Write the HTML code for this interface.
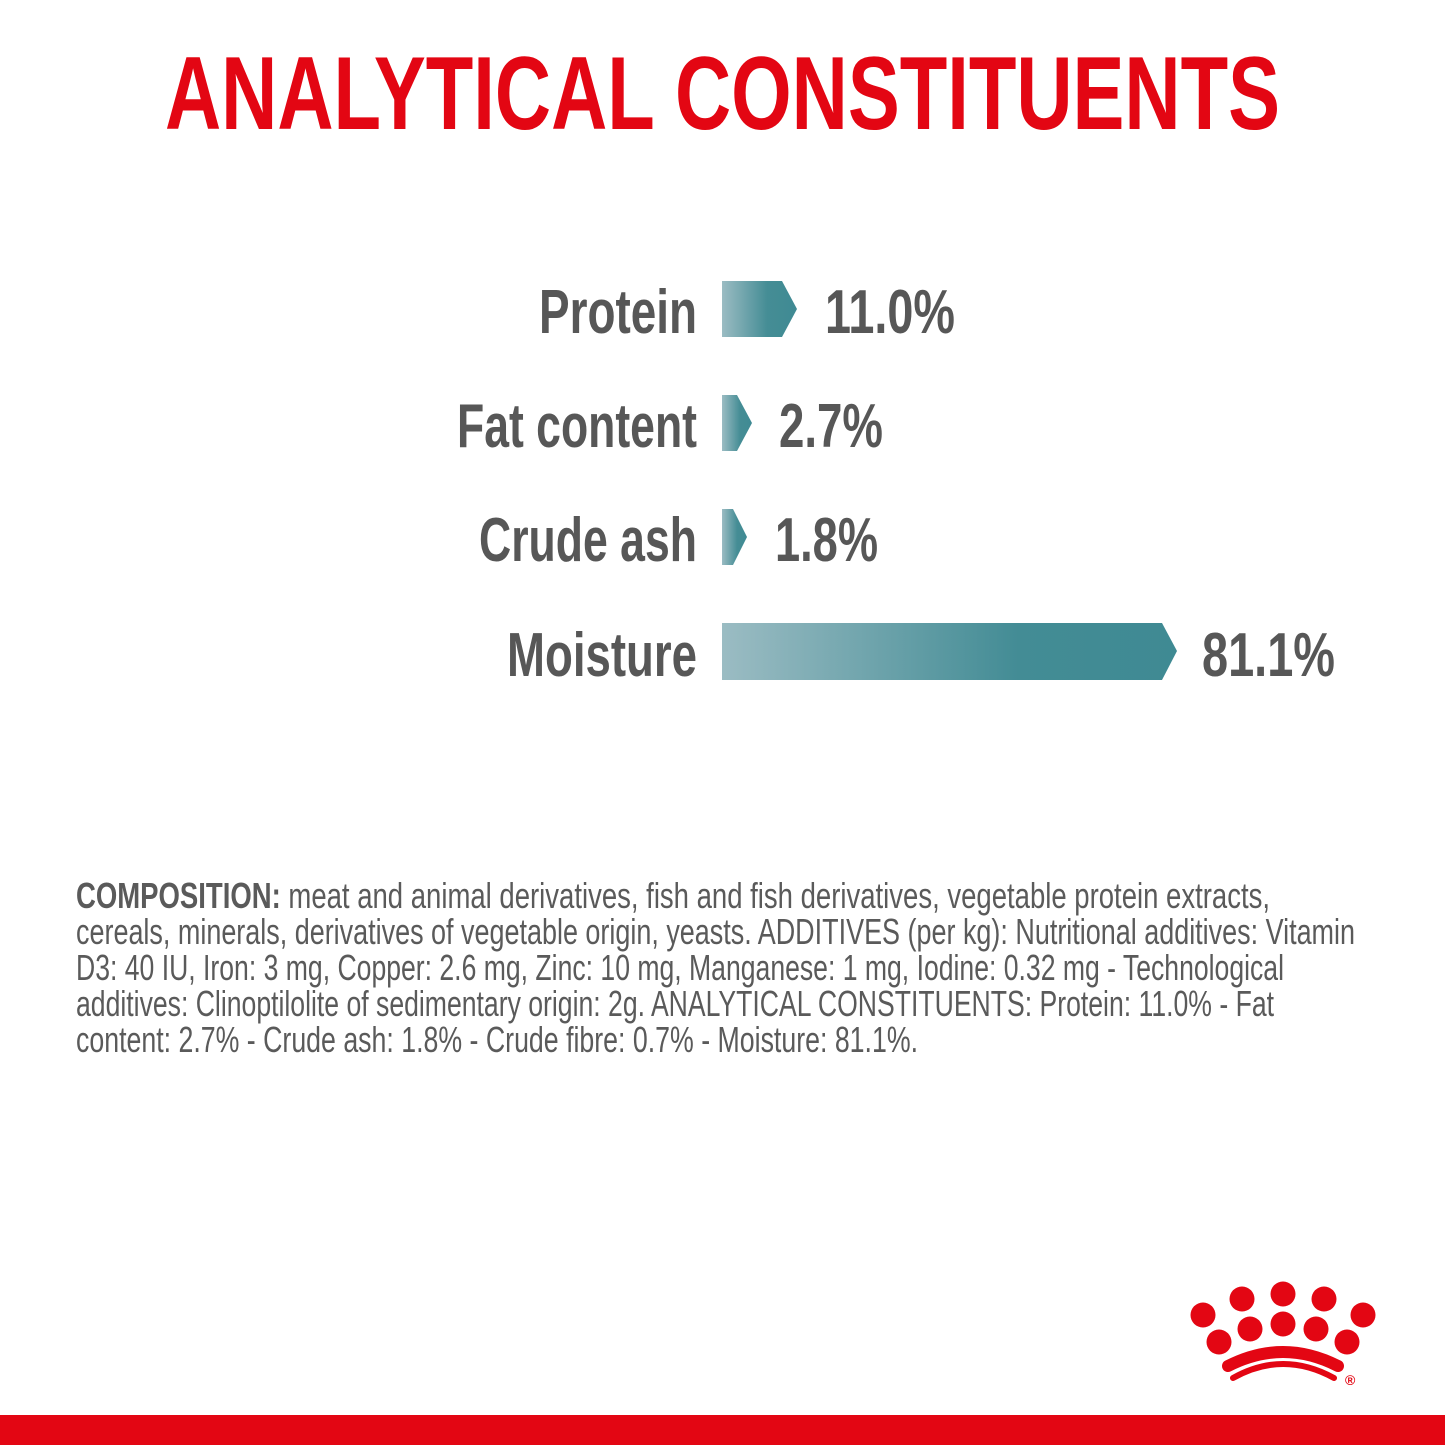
<!DOCTYPE html>
<html><head><meta charset="utf-8"><style>
html,body{margin:0;padding:0;background:#fff;}
svg{display:block;}
</style></head><body>
<svg width="1445" height="1445" viewBox="0 0 1445 1445" xmlns="http://www.w3.org/2000/svg" font-family="Liberation Sans, sans-serif">
<defs>
<linearGradient id="g1" x1="0" x2="1" y1="0" y2="0">
<stop offset="0" stop-color="#9bbcc3"/><stop offset="0.6" stop-color="#458d95"/><stop offset="1" stop-color="#3f8a93"/>
</linearGradient>
<linearGradient id="g2" x1="0" x2="1" y1="0" y2="0">
<stop offset="0" stop-color="#9bbcc3"/><stop offset="0.65" stop-color="#438c95"/><stop offset="1" stop-color="#3f8a93"/>
</linearGradient>
</defs>
<rect width="1445" height="1445" fill="#fff"/>
<text x="165" y="129" font-size="104" font-weight="bold" fill="#e30613" textLength="1115" lengthAdjust="spacingAndGlyphs">ANALYTICAL CONSTITUENTS</text>

<g font-weight="bold" font-size="62" fill="#575757">
<text x="539" y="333" textLength="158" lengthAdjust="spacingAndGlyphs">Protein</text>
<text x="457" y="447" textLength="240" lengthAdjust="spacingAndGlyphs">Fat content</text>
<text x="479" y="561" textLength="218" lengthAdjust="spacingAndGlyphs">Crude ash</text>
<text x="507" y="676" textLength="190" lengthAdjust="spacingAndGlyphs">Moisture</text>
<text x="825" y="333" textLength="130" lengthAdjust="spacingAndGlyphs">11.0%</text>
<text x="779" y="447" textLength="104" lengthAdjust="spacingAndGlyphs">2.7%</text>
<text x="775" y="561" textLength="103" lengthAdjust="spacingAndGlyphs">1.8%</text>
<text x="1202" y="676" textLength="133" lengthAdjust="spacingAndGlyphs">81.1%</text>
</g>

<polygon points="722,281 782,281 797,309 782,337 722,337" fill="url(#g1)"/>
<polygon points="722,395 737,395 752,423 737,451 722,451" fill="url(#g1)"/>
<polygon points="722,509 733,509 747,537 733,565 722,565" fill="url(#g1)"/>
<polygon points="722,623 1162,623 1177,651 1162,680 722,680" fill="url(#g2)"/>

<g font-size="36" fill="#5a5a5a">
<text x="76" y="908" textLength="1194" lengthAdjust="spacingAndGlyphs"><tspan font-weight="bold">COMPOSITION:</tspan> meat and animal derivatives, fish and fish derivatives, vegetable protein extracts,</text>
<text x="76" y="944" textLength="1279" lengthAdjust="spacingAndGlyphs">cereals, minerals, derivatives of vegetable origin, yeasts. ADDITIVES (per kg): Nutritional additives: Vitamin</text>
<text x="76" y="980" textLength="1208" lengthAdjust="spacingAndGlyphs">D3: 40 IU, Iron: 3 mg, Copper: 2.6 mg, Zinc: 10 mg, Manganese: 1 mg, Iodine: 0.32 mg - Technological</text>
<text x="76" y="1016" textLength="1198" lengthAdjust="spacingAndGlyphs">additives: Clinoptilolite of sedimentary origin: 2g. ANALYTICAL CONSTITUENTS: Protein: 11.0% - Fat</text>
<text x="76" y="1052" textLength="842" lengthAdjust="spacingAndGlyphs">content: 2.7% - Crude ash: 1.8% - Crude fibre: 0.7% - Moisture: 81.1%.</text>
</g>

<g fill="#e30613">
<circle cx="1203" cy="1315" r="12.5"/>
<circle cx="1242" cy="1299" r="12.5"/>
<circle cx="1283" cy="1294" r="12.5"/>
<circle cx="1324" cy="1299" r="12.5"/>
<circle cx="1363" cy="1315" r="12.5"/>
<circle cx="1219" cy="1342" r="12.5"/>
<circle cx="1250" cy="1329" r="12.5"/>
<circle cx="1283" cy="1324" r="12.5"/>
<circle cx="1316" cy="1329" r="12.5"/>
<circle cx="1347" cy="1342" r="12.5"/>
<text x="1345" y="1385" font-size="14" font-weight="bold">®</text>
</g>
<path d="M1228,1366 Q1283,1338 1338,1366" stroke="#e30613" stroke-width="12" fill="none" stroke-linecap="round"/>
<path d="M1233,1378 Q1283,1350 1334,1378" stroke="#e30613" stroke-width="6" fill="none" stroke-linecap="round"/>

<rect x="0" y="1415" width="1445" height="30" fill="#e30613"/>
</svg>
</body></html>
